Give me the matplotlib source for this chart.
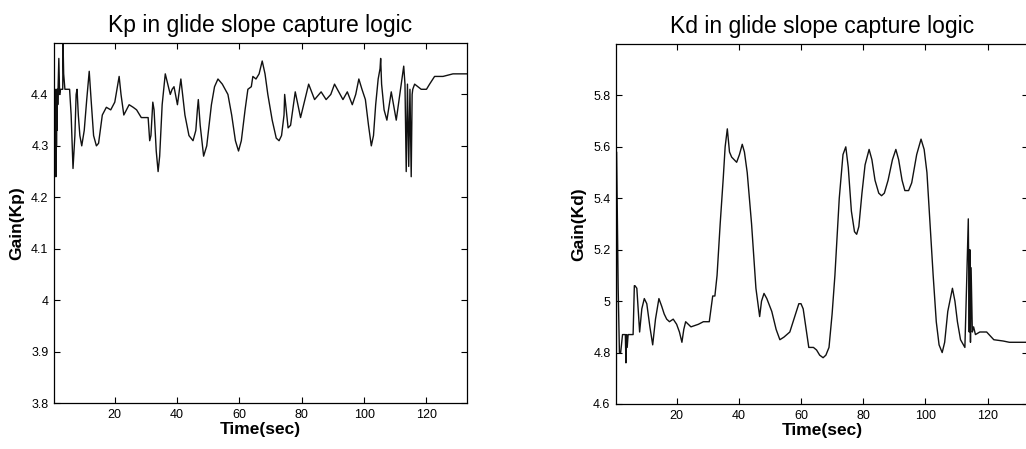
import matplotlib
matplotlib.use("Agg")
import matplotlib.pyplot as plt

plt.rcParams['font.family'] = ['Liberation Sans', 'DejaVu Sans']

# Kp gain trace (time in sec, gain)
kp_t = [0.5, 0.55, 0.7, 0.8, 0.9, 1.0, 1.1, 1.2, 1.3, 1.4, 1.5, 1.6, 1.7, 1.8, 2.05, 2.3, 2.6,
        3.3, 3.4, 3.6, 4.0, 5.5, 6.0, 6.6, 7.2, 7.6, 7.9, 8.3, 8.8, 9.4, 10.2, 11.0, 11.8,
        12.4, 13.2, 14.1, 14.8, 16.0, 17.3, 18.7, 20.0, 21.0, 21.4, 22.0, 22.9, 24.6, 25.9,
        27.0, 28.5, 30.7, 31.2, 31.6, 32.2, 32.6, 33.3, 33.9, 34.4, 35.2, 36.2, 37.0, 37.8,
        38.4, 39.0, 40.1, 41.2, 42.5, 43.8, 45.1, 46.0, 46.5, 46.8, 47.4, 48.5, 49.5, 51.0,
        52.0, 53.1, 54.5, 56.3, 57.5, 58.7, 59.7, 60.6, 61.8, 62.7, 63.8, 64.3, 65.3, 66.3,
        67.3, 68.2, 69.1, 70.5, 71.8, 72.7, 73.5, 74.3, 74.5, 75.6, 76.4, 77.9, 79.6, 81.0,
        82.2, 84.1, 86.2, 87.8, 89.3, 90.5, 93.2, 94.6, 96.2, 97.3, 98.3, 99.3, 100.4, 101.4,
        102.3, 103.0, 103.7, 104.5, 105.1, 105.3, 105.6, 106.4, 107.3, 108.7, 110.3, 111.2,
        111.9, 112.7, 113.1, 113.5, 113.9, 114.3, 114.7, 115.1, 115.4, 115.6, 116.2, 118.3,
        120.0, 121.0, 122.6, 125.3, 128.5, 132.8]
kp_v = [3.80, 4.40, 4.24, 4.41, 4.26, 4.40, 4.24, 4.41, 4.30, 4.40, 4.33, 4.41, 4.38, 4.41, 4.47, 4.40, 4.41,
        4.41, 4.50, 4.44, 4.41, 4.41, 4.36, 4.256, 4.32, 4.40, 4.41, 4.36, 4.32, 4.30, 4.33, 4.39, 4.445,
        4.39, 4.32, 4.30, 4.305, 4.36, 4.375, 4.37, 4.385, 4.42, 4.435, 4.40, 4.36, 4.38, 4.375,
        4.37, 4.355, 4.355, 4.31, 4.32, 4.385, 4.37, 4.29, 4.25, 4.28, 4.38, 4.44, 4.42, 4.40,
        4.41, 4.415, 4.38, 4.43, 4.36, 4.32, 4.31, 4.33, 4.37, 4.39, 4.34, 4.28, 4.30, 4.38,
        4.415, 4.43, 4.42, 4.40, 4.36, 4.31, 4.29, 4.31, 4.37, 4.41, 4.415, 4.435, 4.43, 4.44,
        4.465, 4.44, 4.40, 4.35, 4.315, 4.31, 4.32, 4.36, 4.40, 4.335, 4.34, 4.405, 4.355, 4.39,
        4.42, 4.39, 4.405, 4.39, 4.40, 4.42, 4.39, 4.405, 4.38, 4.40, 4.43, 4.41, 4.39, 4.34,
        4.30, 4.32, 4.38, 4.43, 4.45, 4.47, 4.42, 4.37, 4.35, 4.405, 4.35, 4.39,
        4.42, 4.455, 4.42, 4.25, 4.42, 4.26, 4.41, 4.24, 4.40, 4.41, 4.42, 4.41,
        4.41, 4.42, 4.435, 4.435, 4.44, 4.44]

# Kd gain trace
kd_t = [0.6, 0.7, 1.2, 1.6, 2.0, 2.6, 3.5, 3.7, 3.9, 4.1, 4.4, 4.7, 6.0, 6.4, 6.6, 7.2, 8.1,
        8.8, 9.6, 10.4, 11.4, 12.3, 13.2, 14.3, 15.2, 16.0, 16.8, 17.7, 18.9, 20.0, 20.9, 21.7,
        22.3, 22.9, 24.6, 27.0, 28.6, 30.5, 31.6, 32.3, 33.0, 34.0, 35.0, 35.6, 36.3, 37.0,
        37.7, 39.3, 40.2, 41.1, 41.8, 42.7, 44.1, 45.5, 46.7, 47.3, 48.1, 49.0, 50.6, 52.0,
        53.2, 54.5, 56.4, 58.0, 59.3, 60.0, 60.7, 61.8, 62.5, 64.0, 65.0, 66.0, 67.1, 68.0,
        69.0, 70.0, 70.9, 72.3, 73.5, 74.4, 75.2, 76.2, 77.2, 77.9, 78.6, 79.6, 80.6, 81.9,
        82.8, 83.8, 85.0, 85.9, 86.8, 88.0, 89.4, 90.5, 91.4, 92.5, 93.4, 94.6, 95.6, 97.2,
        98.6, 99.6, 100.5, 101.5, 102.5, 103.5, 104.4, 105.4, 106.2, 107.2, 108.7, 109.5,
        110.3, 111.3, 112.7, 113.2, 113.8, 114.1, 114.3, 114.5, 114.7, 115.1, 115.5, 116.1,
        117.5, 119.7, 122.0, 125.0, 127.0, 132.3]
kd_v = [4.62, 5.58, 5.05, 4.80, 4.80, 4.87, 4.87, 4.76, 4.87, 4.82, 4.87, 4.87, 4.87, 5.06, 5.06, 5.05, 4.88,
        4.97, 5.01, 4.99, 4.90, 4.83, 4.93, 5.01, 4.98, 4.95, 4.93, 4.92, 4.93, 4.91, 4.88, 4.84,
        4.89, 4.92, 4.90, 4.91, 4.92, 4.92, 5.02, 5.02, 5.10, 5.30, 5.48, 5.60, 5.67, 5.58,
        5.56, 5.54, 5.57, 5.61, 5.58, 5.50, 5.30, 5.05, 4.94, 5.00, 5.03, 5.01, 4.96, 4.89,
        4.85, 4.86, 4.88, 4.94, 4.99, 4.99, 4.97, 4.88, 4.82, 4.82, 4.81, 4.79, 4.78, 4.79,
        4.82, 4.95, 5.10, 5.40, 5.57, 5.60, 5.52, 5.35, 5.27, 5.26, 5.29, 5.42, 5.53, 5.59,
        5.55, 5.47, 5.42, 5.41, 5.42, 5.47, 5.55, 5.59, 5.55, 5.47, 5.43, 5.43, 5.46, 5.57,
        5.63, 5.59, 5.50, 5.30, 5.10, 4.92, 4.83, 4.80, 4.84, 4.96, 5.05, 5.00,
        4.92, 4.85, 4.82, 5.04, 5.32, 4.88, 5.20, 4.84, 5.13, 4.88, 4.90, 4.87,
        4.88, 4.88, 4.85, 4.845, 4.84, 4.84]

W, H = 1026, 449
fig = plt.figure(figsize=(W / 100, H / 100), dpi=100)

ax1 = fig.add_axes([54 / W, 1 - 403 / H, 413 / W, 360 / H])
ax2 = fig.add_axes([616 / W, 1 - 404 / H, 412 / W, 360 / H])

panels = [
    (ax1, kp_t, kp_v, 'Kp in glide slope capture logic', 'Gain(Kp)', (3.8, 4.5),
     [3.8, 3.9, 4.0, 4.1, 4.2, 4.3, 4.4], ['3.8', '3.9', '4', '4.1', '4.2', '4.3', '4.4']),
    (ax2, kd_t, kd_v, 'Kd in glide slope capture logic', 'Gain(Kd)', (4.6, 6.0),
     [4.6, 4.8, 5.0, 5.2, 5.4, 5.6, 5.8], ['4.6', '4.8', '5', '5.2', '5.4', '5.6', '5.8']),
]

for ax, t, v, title, ylabel, ylim, yticks, ylabels in panels:
    ax.plot(t, v, color='#111111', linewidth=1.0)
    ax.set_xlim(0.5, 133)
    ax.set_ylim(*ylim)
    ax.set_xticks([20, 40, 60, 80, 100, 120])
    ax.set_yticks(yticks)
    ax.set_yticklabels(ylabels)
    ax.tick_params(direction='in', top=True, right=True, length=4, width=0.8,
                   labelsize=9, pad=4)
    for s in ax.spines.values():
        s.set_linewidth(0.9)
    ax.set_title(title, fontsize=16.5, pad=8)
    ax.set_xlabel('Time(sec)', fontsize=12.5, fontweight='bold', labelpad=1)
    ax.set_ylabel(ylabel, fontsize=12.5, fontweight='bold', labelpad=5)

fig.savefig('out.png', dpi=100)
